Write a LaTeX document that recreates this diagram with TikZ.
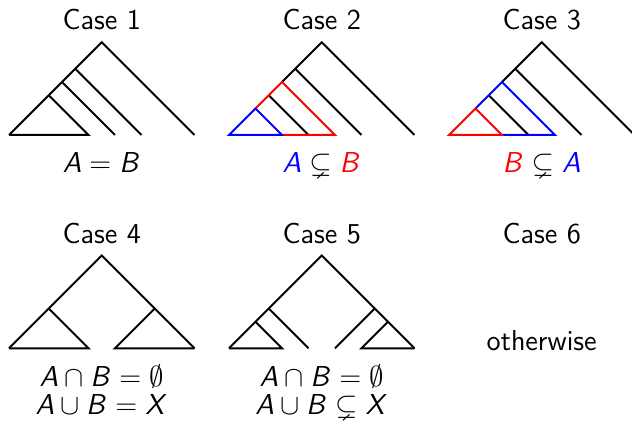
\documentclass[tikz,border=0pt]{standalone}
\usepackage{amsmath}
\usepackage{amssymb}
\usepackage{xcolor}
\usepackage{tikz}
\DeclareMathAlphabet{\mathssl}{OT1}{cmss}{m}{sl}
\tikzset{
  title/.style = {anchor=base, inner sep=0pt, font=\Large\sffamily},
  rel/.style   = {anchor=base, inner sep=0pt, font=\Large, align=center}
}
\usetikzlibrary{positioning}

\begin{document}
\begin{tikzpicture}[x=0.5pt, y=0.5pt, line width=1pt]
  \useasboundingbox (0,0) rectangle (632,427);

  % nested subtrees, #2 = inner colour, #3 = outer colour
  \def\nested#1#2#3{%
    \begin{scope}[shift={(#1)}, scale=13.25]
      \draw (4,4) -- (7,7) -- (14,0);
      \draw (3,3) -- (6,0);
      \draw (5,5) -- (10,0);
      \draw[#3] (2,2) -- (4,4) -- (8,0) -- (4,0);
      \draw[#2] (0,0) -- (2,2) -- (4,0) -- cycle;
    \end{scope}
  }

  \foreach \cx/\cy [count=\i] in {101.7/397, 321.7/397, 541.7/397,
                                  101.7/183, 321.7/183, 541.7/183}{
    \node[title] (case\i) at (\cx,\cy) {Case \i};
  }

  \begin{scope}[shift={(9,292)}, scale=13.25]
    \draw (0,0) -- (7,7) -- (14,0);
    \draw (0,0) -- (6,0) -- (3,3);
    \draw (4,4) -- (8,0);
    \draw (5,5) -- (10,0);
  \end{scope}

  \nested{229,292}{blue}{red}
  \nested{449,292}{red}{blue}

  \begin{scope}[shift={(9,78.7)}, scale=13.25]
    \draw (0,0) -- (7,7) -- (14,0);
    \draw (3,3) -- (6,0) -- (0,0);
    \draw (11,3) -- (8,0) -- (14,0);
  \end{scope}

  \begin{scope}[shift={(229,78.7)}, scale=13.25]
    \draw (0,0) -- (7,7) -- (14,0);
    \draw (0,0) -- (4,0) -- (2,2);
    \draw (3,3) -- (6,0);
    \draw (11,3) -- (8,0);
    \draw (12,2) -- (10,0) -- (14,0);
  \end{scope}

  \node[rel] (rel1) at (101.7,254.7) {$\mathssl{A} = \mathssl{B}$};
  \node[rel] (rel2) at (321.7,254.7)
    {$\color{blue}\mathssl{A} \color{black}\subsetneq \color{red}\mathssl{B}$};
  \node[rel] (rel3) at (541.7,254.7)
    {$\color{red}\mathssl{B} \color{black}\subsetneq \color{blue}\mathssl{A}$};
  \node[rel] (rel4) at (101.7,12.7)
    {$\mathssl{A} \cap \mathssl{B} = \emptyset$\\[-4.2pt]
     $\mathssl{A} \cup \mathssl{B} = \mathssl{X}$};
  \node[rel] (rel5) at (321.7,12.7)
    {$\mathssl{A} \cap \mathssl{B} = \emptyset$\\[-4.2pt]
     $\mathssl{A} \cup \mathssl{B} \subsetneq \mathssl{X}$};
  \node[title] (other) at (541.7,76) {otherwise};

\end{tikzpicture}
\end{document}
